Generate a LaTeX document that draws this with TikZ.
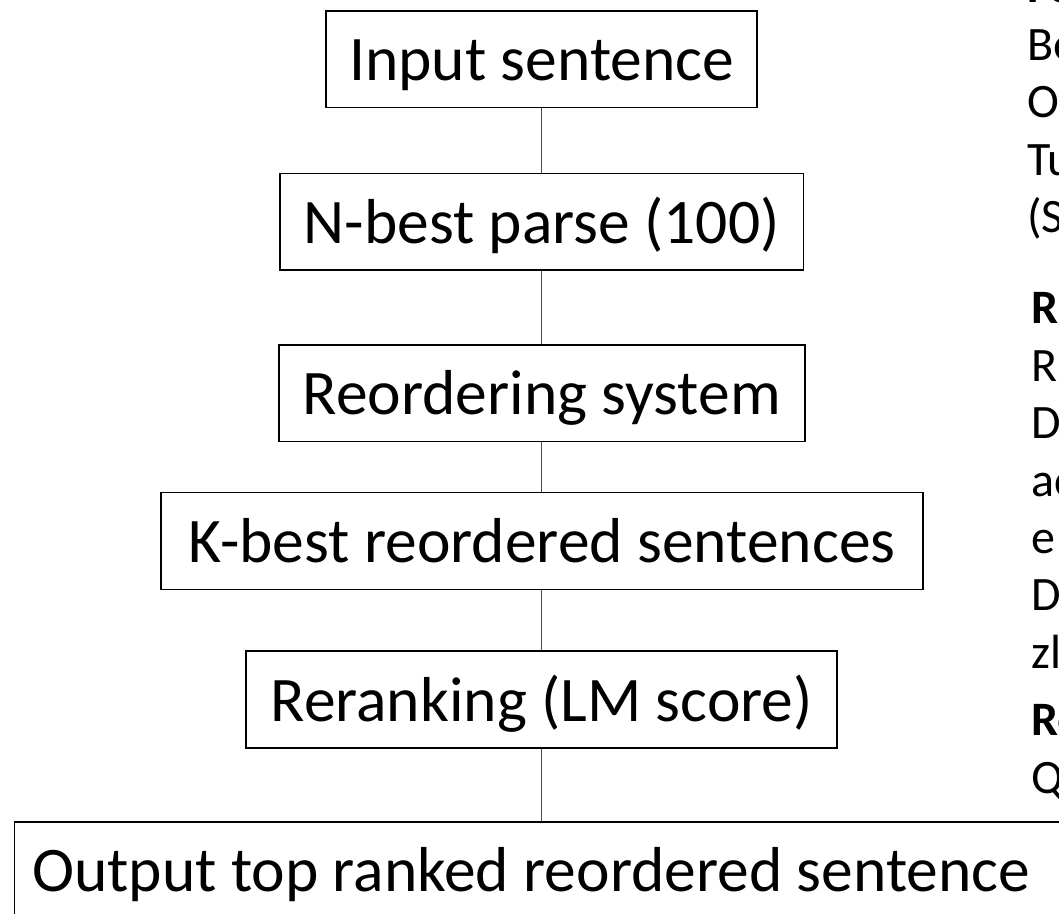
\documentclass[tikz,border=0pt]{standalone}
\usepackage{fontspec}
\setmainfont{Carlito}
\begin{document}
\begin{tikzpicture}[x=1pt,y=-1pt,
  stagebox/.style={draw=black, line width=1.6pt, inner xsep=0pt, inner ysep=0pt,
    text height=70pt, text depth=26.7pt, font=\fontsize{63.5}{76}\selectfont},
  link/.style={draw=black!70, line width=1pt},
  sidetext/.style={anchor=base west, inner sep=0pt, font=\fontsize{48}{57.5}\selectfont},
  sidehead/.style={sidetext, font=\fontsize{48}{57.5}\selectfont\bfseries}]
\useasboundingbox (0,0) rectangle (1059,913);

% pipeline stages
\node[stagebox, minimum width=431pt]   (b1) at (541.7,59.05)  {Input sentence};
\node[stagebox, minimum width=523.4pt] (b2) at (541.7,221.85) {N-best parse (100)};
\node[stagebox, minimum width=526pt]   (b3) at (541.7,393.05) {Reordering system};
\node[stagebox, minimum width=762pt]   (b4) at (541.7,540.95) {K-best reordered sentences};
\node[stagebox, minimum width=591pt]   (b5) at (541.7,699.35) {Reranking (LM score)};
\node[stagebox, anchor=north west, inner xsep=17.8pt]
  (b6) at (13.5,821) {\makebox[1030pt][l]{Output top ranked reordered sentence}};

% connectors
\draw[link] (b1.south) -- (b2.north);
\draw[link] (b2.south) -- (b3.north);
\draw[link] (b3.south) -- (b4.north);
\draw[link] (b4.south) -- (b5.north);
\draw[link] (b5.south) -- (b5.south |- b6.north);

% side notes running off the right edge
\node[sidehead] (s0) at (1027,2.5) {Fo};
\node[sidetext] (s1) at (1027,60) {Be};
\node[sidetext] (s2) at (1027,117.5) {O};
\node[sidetext] (s3) at (1027,175) {Tu};
\node[sidetext] (s4) at (1027,232) {(S};
\node[sidehead] (s5) at (1031,323) {R};
\node[sidetext] (s6) at (1031,381) {R};
\node[sidetext] (s7) at (1031,438) {D};
\node[sidetext] (s8) at (1031,496) {ac};
\node[sidetext] (s9) at (1031,553) {e};
\node[sidetext] (s10) at (1031,610) {D};
\node[sidetext] (s11) at (1031,668) {zl};
\node[sidehead] (s12) at (1031,735) {Re};
\node[sidetext] (s13) at (1031,793) {Q};
\end{tikzpicture}
\end{document}
